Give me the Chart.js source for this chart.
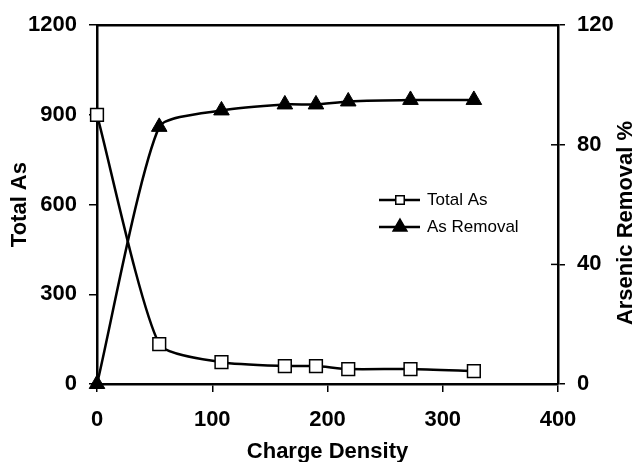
<!DOCTYPE html>
<html>
<head>
<meta charset="utf-8">
<script src="https://cdn.jsdelivr.net/npm/chart.js@4"></script>
<style>
    html, body { margin: 0; padding: 0; background: #fff; }
    #wrap { width: 640px; height: 462px; }
</style>
</head>
<body>
<div id="wrap"><canvas id="asChart"></canvas></div>
<script>
const chargeDensity = [0, 54, 108, 163, 190, 218, 272, 327];
const totalAs = [900, 133, 73, 60, 60, 50, 50, 43];
const asRemoval = [0, 86, 91.5, 93.5, 93.5, 94.5, 95, 95];
const xTicks = [0, 100, 200, 300, 400];
const leftTicks = [0, 300, 600, 900, 1200];
const rightTicks = [0, 40, 80, 120];

const fontFamily = '"Liberation Sans", Arial, sans-serif';
const boldFont = { family: fontFamily, size: 22, weight: 'bold' };

function toPoints(xs, ys) {
    return xs.map((x, i) => ({ x: x, y: ys[i] }));
}

// frame, inner right ticks, rotated right title and legend
const extras = {
    id: 'extras',
    afterDraw(chart) {
        const ctx = chart.ctx;
        const a = chart.chartArea;
        const r = chart.scales.y1;
        ctx.save();
        ctx.strokeStyle = '#000';
        ctx.lineWidth = 2.5;
        ctx.beginPath();
        ctx.moveTo(a.left, a.top);
        ctx.lineTo(a.right, a.top);
        ctx.stroke();
        ctx.lineWidth = 1.5;
        rightTicks.forEach(v => {
            const y = r.getPixelForValue(v);
            ctx.beginPath();
            ctx.moveTo(a.right - 7, y);
            ctx.lineTo(a.right, y);
            ctx.stroke();
        });

        ctx.fillStyle = '#000';
        ctx.font = 'bold 22px ' + fontFamily;
        ctx.textAlign = 'center';
        ctx.textBaseline = 'middle';
        ctx.translate(626, 223);
        ctx.rotate(-Math.PI / 2);
        ctx.fillText('Arsenic Removal %', 0, 0);
        ctx.restore();

        ctx.save();
        ctx.font = '17px ' + fontFamily;
        ctx.textBaseline = 'middle';
        chart.data.datasets.forEach((ds, i) => {
            const y = 200 + i * 27;
            ctx.strokeStyle = '#000';
            ctx.lineWidth = 2.5;
            ctx.beginPath();
            ctx.moveTo(379, y);
            ctx.lineTo(420, y);
            ctx.stroke();
            ctx.lineWidth = 1.5;
            ctx.fillStyle = ds.pointBackgroundColor;
            Chart.helpers.drawPoint(ctx, {
                pointStyle: ds.pointStyle,
                rotation: 0,
                radius: i === 0 ? 6 : 8,
                borderWidth: 1.5
            }, 400, y);
            ctx.fillStyle = '#000';
            ctx.fillText(ds.label, 427, y);
        });
        ctx.restore();
    }
};

const config = {
    type: 'line',
    data: {
        datasets: [{
            label: 'Total As',
            data: toPoints(chargeDensity, totalAs),
            yAxisID: 'y',
            borderColor: '#000',
            borderWidth: 2.5,
            tension: 0.2,
            pointStyle: 'rect',
            pointRadius: 9,
            pointBackgroundColor: '#fff',
            pointBorderColor: '#000',
            pointBorderWidth: 1.5
        }, {
            label: 'As Removal',
            data: toPoints(chargeDensity, asRemoval),
            yAxisID: 'y1',
            borderColor: '#000',
            borderWidth: 2.5,
            tension: 0.2,
            pointStyle: 'triangle',
            pointRadius: 9,
            pointBackgroundColor: '#000',
            pointBorderColor: '#000',
            pointBorderWidth: 1
        }]
    },
    options: {
        responsive: true,
        maintainAspectRatio: false,
        animation: false,
        clip: false,
        layout: { padding: { top: 20, left: 0, right: 0, bottom: 0 } },
        plugins: {
            legend: { display: false },
            tooltip: { enabled: false }
        },
        scales: {
            x: {
                type: 'linear',
                min: 0,
                max: 400,
                afterBuildTicks: s => { s.ticks = xTicks.map(v => ({ value: v })); },
                afterFit: s => { s.height = 78; },
                border: { display: true, color: '#000', width: 2.5 },
                grid: { display: true, drawOnChartArea: false, color: '#000', lineWidth: 1.5, tickLength: 8 },
                ticks: { color: '#000', font: boldFont, padding: 15, maxRotation: 0, callback: v => String(v) },
                title: { display: true, text: 'Charge Density', color: '#000', font: boldFont, padding: { top: 0, bottom: -3 } }
            },
            y: {
                position: 'left',
                min: 0,
                max: 1200,
                afterBuildTicks: s => { s.ticks = leftTicks.map(v => ({ value: v })); },
                afterFit: s => { s.width = 97; },
                border: { display: true, color: '#000', width: 2.5 },
                grid: { display: true, drawOnChartArea: false, color: '#000', lineWidth: 1.5, tickLength: 8 },
                ticks: { color: '#000', font: boldFont, padding: 12, callback: v => String(v) },
                title: { display: true, text: 'Total As', color: '#000', font: boldFont, padding: { top: 7, bottom: 0 } }
            },
            y1: {
                position: 'right',
                min: 0,
                max: 120,
                afterBuildTicks: s => { s.ticks = rightTicks.map(v => ({ value: v })); },
                afterFit: s => { s.width = 82; },
                border: { display: true, color: '#000', width: 2.5 },
                grid: { display: true, drawOnChartArea: false, color: '#000', lineWidth: 1.5, tickLength: 7 },
                ticks: { color: '#000', font: boldFont, padding: 12, callback: v => String(v) }
            }
        }
    },
    plugins: [extras]
};

const chart = new Chart(document.getElementById('asChart').getContext('2d'), config);
</script>
</body>
</html>
